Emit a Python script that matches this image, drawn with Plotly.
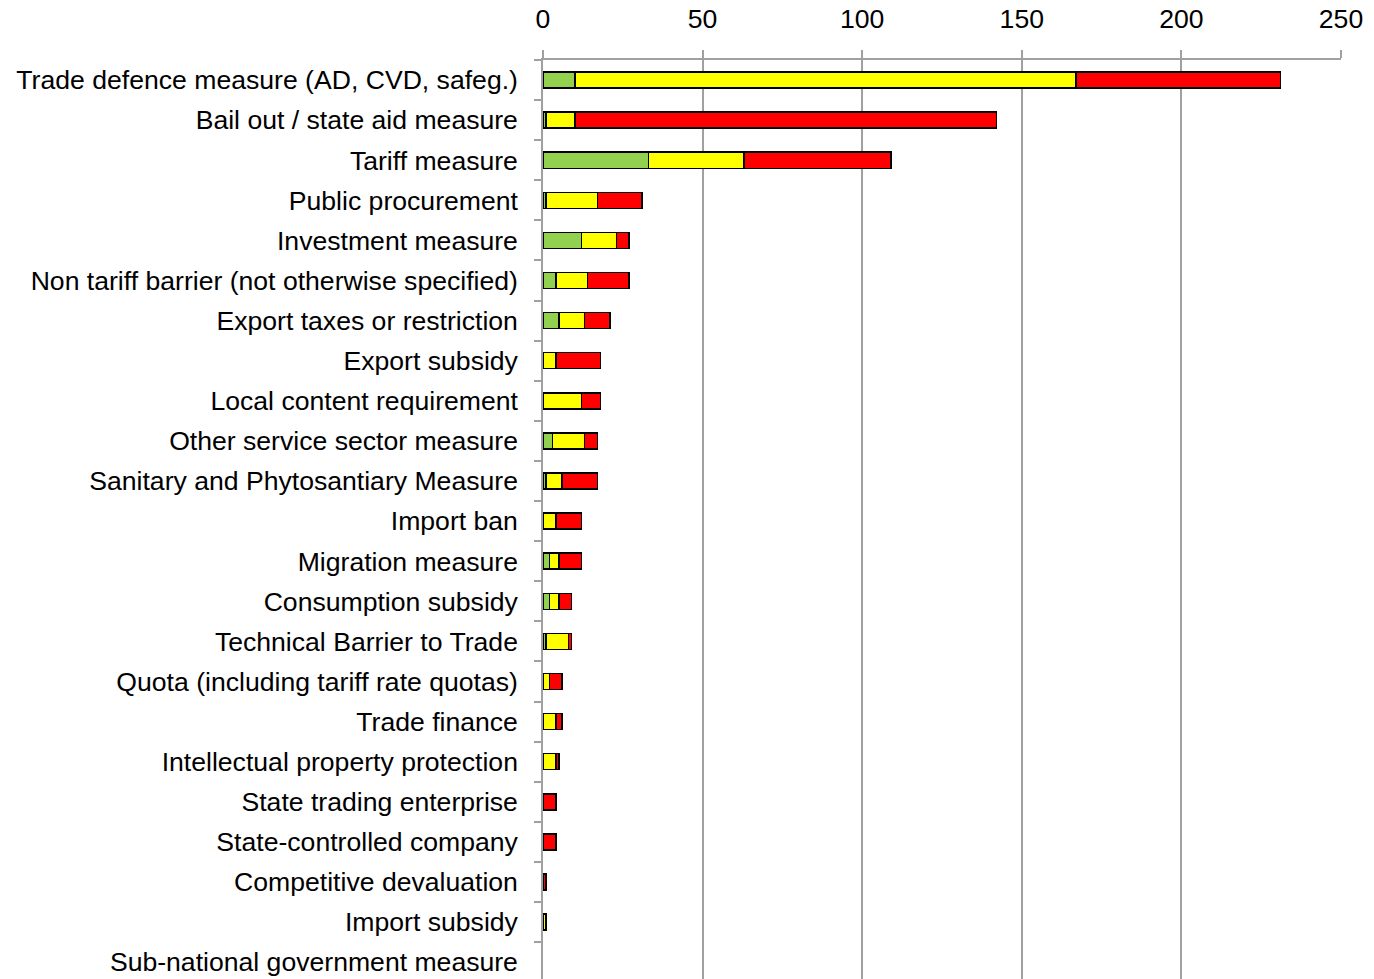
import plotly.graph_objects as go

categories = [
    "Trade defence measure (AD, CVD, safeg.)",
    "Bail out / state aid measure",
    "Tariff measure",
    "Public procurement",
    "Investment measure",
    "Non tariff barrier (not otherwise specified)",
    "Export taxes or restriction",
    "Export subsidy",
    "Local content requirement",
    "Other service sector measure",
    "Sanitary and Phytosantiary Measure",
    "Import ban",
    "Migration measure",
    "Consumption subsidy",
    "Technical Barrier to Trade",
    "Quota (including tariff rate quotas)",
    "Trade finance",
    "Intellectual property protection",
    "State trading enterprise",
    "State-controlled company",
    "Competitive devaluation",
    "Import subsidy",
    "Sub-national government measure",
]

green_vals = [10, 1, 33, 1, 12, 4, 5, 0, 0, 3, 1, 0, 2, 2, 1, 0, 0, 0, 0, 0, 0, 0, 0]
yellow_vals = [157, 9, 30, 16, 11, 10, 8, 4, 12, 10, 5, 4, 3, 3, 7, 2, 4, 4, 0, 0, 0, 1, 0]
red_vals = [64, 132, 46, 14, 4, 13, 8, 14, 6, 4, 11, 8, 7, 4, 1, 4, 2, 1, 4, 4, 1, 0, 0]

x_ticks = [0, 50, 100, 150, 200, 250]

series = [
    ("Green", green_vals, "#92D050"),
    ("Amber", yellow_vals, "#FFFF00"),
    ("Red", red_vals, "#FF0000"),
]

fig = go.Figure()
for name, vals, col in series:
    fig.add_trace(go.Bar(
        y=categories, x=[v if v else None for v in vals], name=name, orientation="h",
        marker=dict(color=col, line=dict(color="#000000", width=1.5)),
    ))

font = dict(family="Liberation Sans, Arial, sans-serif", size=26.6, color="#000000")

fig.update_layout(
    barmode="stack",
    bargap=0.6,
    width=1374, height=979,
    margin=dict(l=543, r=33, t=60, b=0),
    plot_bgcolor="white", paper_bgcolor="white",
    showlegend=False,
    font=font,
)
fig.update_xaxes(
    side="top", range=[0, 250], tickvals=x_ticks,
    showgrid=True, gridcolor="#A0A0A0", gridwidth=1.5,
    showline=True, linecolor="#A0A0A0", linewidth=1.5,
    ticks="outside", ticklen=8, tickcolor="#A0A0A0", tickwidth=1.5,
    zeroline=False, tickfont=font, ticklabelstandoff=12,
)
fig.update_yaxes(
    type="category", categoryorder="array", categoryarray=categories,
    range=[22.42, -0.5],
    showline=True, linecolor="#A0A0A0", linewidth=1.5,
    ticks="outside", ticklen=7, tickcolor="#A0A0A0", tickwidth=1.5,
    tickson="boundaries", showgrid=False,
    tickfont=font, ticklabelstandoff=18,
)

fig.write_html(
    "out.html",
    config={"displayModeBar": False},
    post_script="document.body.style.margin='0';document.body.style.overflow='hidden';",
)
